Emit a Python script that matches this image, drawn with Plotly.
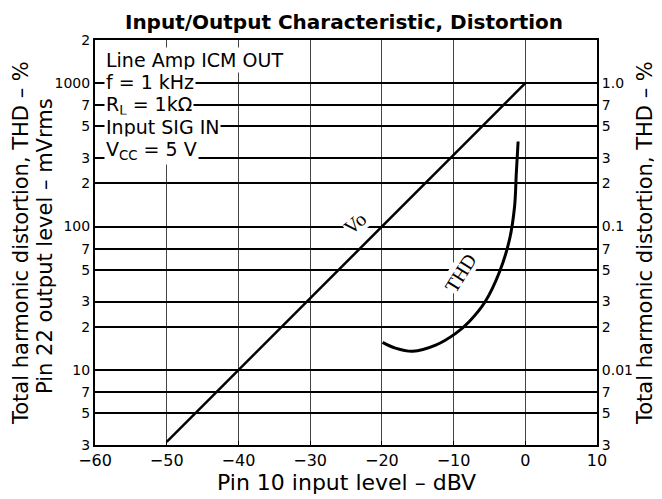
import plotly.graph_objects as go
import math

# ---- data ----
vo_x = [-50, -40, -30, -20, -10, 0]
vo_mv = [3.16, 10, 31.6, 100, 316, 1000]

thd_x = [-19.9, -18.1, -15.7, -12.5, -9.7, -7.8, -5.6, -3.6, -2.2, -1.5, -1.25, -1.0]
thd_pct = [0.0156, 0.0142, 0.0135, 0.0149, 0.0180, 0.0218, 0.0299, 0.0482, 0.0813, 0.137, 0.236, 0.392]

x_ticks = [-60, -50, -40, -30, -20, -10, 0, 10]
y_ticks = [3, 5, 7, 10, 20, 30, 50, 70, 100, 200, 300, 500, 700, 1000, 2000]
y_ticktext = ["3", "5", "7", "10", "2", "3", "5", "7", "100", "2", "3", "5", "7", "1000", "2"]
y2_ticks = [0.003, 0.005, 0.007, 0.01, 0.02, 0.03, 0.05, 0.07, 0.1, 0.2, 0.3, 0.5, 0.7, 1.0]
y2_ticktext = ["3", "5", "7", "0.01", "2", "3", "5", "7", "0.1", "2", "3", "5", "7", "1.0"]

info_lines = ["Line Amp ICM OUT", "f = 1 kHz", "R<sub>L</sub> = 1kΩ", "Input SIG IN", "V<sub>CC</sub> = 5 V"]

FONT = "DejaVu Sans"

fig = go.Figure()
fig.add_trace(go.Scatter(x=vo_x, y=vo_mv, mode="lines",
                         line=dict(color="black", width=2.5), yaxis="y", showlegend=False))
fig.add_trace(go.Scatter(x=thd_x, y=thd_pct, mode="lines",
                         line=dict(color="black", width=3, shape="spline", smoothing=1.0),
                         yaxis="y2", showlegend=False))

# page offset of the figure (body margin)
OFF = 8
PAGE_W, PAGE_H = 662, 499
W, H = PAGE_W - OFF, PAGE_H - OFF
# plot area in page pixels
PL, PR, PT, PB = 95, 597, 40, 445
L, R, T, B = PL - OFF, PAGE_W - PR, PT - OFF, PAGE_H - PB
pw, ph = PR - PL, PB - PT

def px(xp):
    return (xp - PL) / pw

def py(yp):
    return (PB - yp) / ph

annotations = []
info_y = [60, 82, 105, 127, 150]
for txt, yy in zip(info_lines, info_y):
    annotations.append(dict(text=txt, xref="paper", yref="paper", x=px(104), y=py(yy),
                            xanchor="left", yanchor="middle", showarrow=False,
                            bgcolor="white", borderpad=1,
                            font=dict(family=FONT, size=19, color="black")))

annotations += [
    dict(text="Vo", xref="paper", yref="paper", x=px(355), y=py(223), showarrow=False,
         textangle=-40, bgcolor="white", borderpad=0,
         font=dict(family="Liberation Serif", size=20, color="black")),
    dict(text="THD", xref="paper", yref="paper", x=px(482), y=py(273), showarrow=False,
         textangle=-58, bgcolor="white", borderpad=0,
         font=dict(family="Liberation Serif", size=20, color="black")),
    dict(text="Pin 10 input level – dBV", xref="paper", yref="paper", x=px(346), y=py(482),
         showarrow=False, xanchor="center", yanchor="middle",
         font=dict(family=FONT, size=22, color="black")),
    dict(text="Total harmonic distortion, THD – %", xref="paper", yref="paper", x=px(21), y=py(243),
         showarrow=False, textangle=-90, xanchor="center", yanchor="middle",
         font=dict(family=FONT, size=21, color="black")),
    dict(text="Pin 22 output level – mVrms", xref="paper", yref="paper", x=px(45), y=py(246),
         showarrow=False, textangle=-90, xanchor="center", yanchor="middle",
         font=dict(family=FONT, size=21, color="black")),
    dict(text="Total harmonic distortion, THD – %", xref="paper", yref="paper", x=px(645), y=py(243),
         showarrow=False, textangle=-90, xanchor="center", yanchor="middle",
         font=dict(family=FONT, size=21, color="black")),
]

fig.update_layout(
    width=W, height=H,
    margin=dict(l=L, r=R, t=T, b=B),
    paper_bgcolor="white", plot_bgcolor="white",
    title=dict(text="<b>Input/Output Characteristic, Distortion</b>", x=(344 - OFF) / W,
               xanchor="center", y=1 - (22 - OFF) / H, yanchor="middle",
               font=dict(family=FONT, size=20, color="black")),
    xaxis=dict(range=[-60, 10], tickvals=x_ticks, showgrid=True, gridcolor="#444", gridwidth=1,
               showline=True, linecolor="black", linewidth=2, mirror=True, zeroline=False,
               ticks="inside", ticklen=4, tickcolor="black",
               tickfont=dict(family=FONT, size=16, color="black")),
    yaxis=dict(type="log", range=[math.log10(3), math.log10(2000)], tickvals=y_ticks,
               ticktext=y_ticktext, showgrid=True, gridcolor="black", gridwidth=1.5,
               showline=True, linecolor="black", linewidth=2, mirror=True, zeroline=False,
               ticks="inside", ticklen=4, tickcolor="black",
               tickfont=dict(family=FONT, size=14, color="black")),
    yaxis2=dict(type="log", overlaying="y", side="right",
                range=[math.log10(0.003), math.log10(2)], tickvals=y2_ticks, ticktext=y2_ticktext,
                showgrid=False, showline=True, linecolor="black", linewidth=2, zeroline=False,
                ticks="inside", ticklen=4, tickcolor="black",
                tickfont=dict(family=FONT, size=14, color="black")),
    annotations=annotations,
)

fig.write_html("out.html")
